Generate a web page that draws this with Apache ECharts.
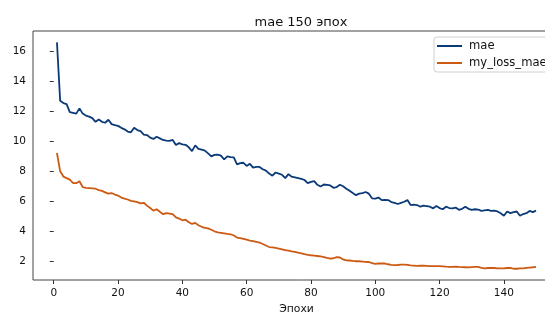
<!DOCTYPE html>
<html>
<head>
<meta charset="utf-8">
<script src="https://cdn.jsdelivr.net/npm/echarts@6/dist/echarts.min.js"></script>
<style>
html,body{margin:0;padding:0;background:#fff;overflow:hidden;width:545px;height:320px;}
#chart{width:570px;height:320px;}
</style>
</head>
<body>
<div id="chart"></div>
<script>
const titleText = "mae 150 эпох";
const xAxisName = "Эпохи";
const seriesNames = ["mae", "my_loss_mae"];
const xTicks = [0, 20, 40, 60, 80, 100, 120, 140];
const yTicks = [2, 4, 6, 8, 10, 12, 14, 16];

const maeValues = [
16.6,12.7,12.55,12.48,11.95,11.9,11.85,12.2,11.85,11.72,
11.65,11.55,11.3,11.46,11.3,11.24,11.44,11.15,11.08,11.03,
10.9,10.8,10.65,10.6,10.9,10.75,10.68,10.45,10.42,10.25,
10.16,10.31,10.2,10.09,10.05,10.03,10.09,9.75,9.88,9.8,
9.77,9.6,9.35,9.73,9.5,9.44,9.38,9.2,9.0,9.1,
9.11,9.05,8.79,9.0,8.95,8.93,8.46,8.55,8.57,8.36,
8.5,8.25,8.3,8.29,8.14,8.05,7.85,7.71,7.92,7.85,
7.77,7.55,7.81,7.64,7.6,7.55,7.5,7.42,7.21,7.3,
7.34,7.1,6.99,7.12,7.1,7.06,6.9,6.95,7.1,7.0,
6.84,6.7,6.55,6.41,6.51,6.55,6.62,6.51,6.2,6.18,
6.25,6.08,6.1,6.08,5.95,5.9,5.82,5.9,5.97,6.08,
5.75,5.78,5.75,5.64,5.71,5.68,5.64,5.53,5.69,5.55,
5.47,5.64,5.55,5.53,5.58,5.43,5.5,5.64,5.5,5.43,
5.47,5.45,5.36,5.4,5.43,5.36,5.38,5.32,5.2,5.04,
5.32,5.21,5.28,5.32,5.04,5.15,5.21,5.36,5.28,5.38
];

const myLossValues = [
9.22,8.0,7.65,7.55,7.45,7.22,7.21,7.34,6.95,6.9,
6.88,6.86,6.84,6.75,6.69,6.6,6.51,6.55,6.45,6.38,
6.25,6.18,6.12,6.03,6.0,5.95,5.86,5.9,5.71,5.55,
5.38,5.47,5.3,5.14,5.21,5.18,5.14,4.93,4.85,4.73,
4.77,4.6,4.49,4.56,4.4,4.3,4.23,4.19,4.1,4.0,
3.93,3.9,3.86,3.82,3.8,3.72,3.58,3.55,3.5,3.45,
3.38,3.35,3.3,3.25,3.15,3.05,2.95,2.92,2.89,2.85,
2.8,2.74,2.71,2.66,2.63,2.57,2.53,2.47,2.43,2.4,
2.38,2.35,2.32,2.28,2.22,2.18,2.2,2.27,2.25,2.12,
2.06,2.05,2.02,2.0,2.0,1.98,1.96,1.95,1.88,1.82,
1.85,1.85,1.85,1.8,1.76,1.74,1.75,1.77,1.78,1.76,
1.73,1.71,1.69,1.7,1.7,1.69,1.68,1.68,1.67,1.67,
1.66,1.64,1.63,1.63,1.64,1.62,1.61,1.6,1.59,1.61,
1.62,1.63,1.56,1.52,1.55,1.56,1.55,1.53,1.52,1.52,
1.55,1.56,1.5,1.5,1.52,1.53,1.56,1.58,1.6,1.63
];

const epochs = maeValues.map((_, i) => i + 1);
const maeData = epochs.map((e, i) => [e, maeValues[i]]);
const lossData = epochs.map((e, i) => [e, myLossValues[i]]);

const FONT = "DejaVu Sans";
const chart = echarts.init(document.getElementById('chart'), null, {renderer: 'canvas'});
chart.setOption({
  animation: false,
  backgroundColor: '#ffffff',
  textStyle: {fontFamily: FONT},
  title: {
    text: titleText,
    left: 296,
    textAlign: 'center',
    top: 11,
    textStyle: {fontFamily: FONT, fontSize: 13, fontWeight: 'normal', color: '#111'}
  },
  legend: {
    data: seriesNames,
    orient: 'vertical',
    left: 434,
    top: 37,
    padding: [3, 8, 3, 3],
    itemGap: 5,
    itemWidth: 25,
    itemHeight: 2,
    icon: 'rect',
    backgroundColor: '#ffffff',
    borderColor: '#d0d0d0',
    borderWidth: 1,
    borderRadius: 3,
    textStyle: {fontFamily: FONT, fontSize: 11.6, color: '#111', padding: [0, 0, 0, 2]}
  },
  grid: {
    left: 33,
    top: 31,
    width: 527,
    height: 254,
    show: true,
    borderColor: '#444',
    borderWidth: 1,
    containLabel: false
  },
  xAxis: {
    type: 'value',
    min: -6.45,
    max: 157.45,
    name: xAxisName,
    nameLocation: 'middle',
    nameGap: 24,
    nameTextStyle: {fontFamily: FONT, fontSize: 10.8, color: '#111'},
    axisLine: {show: false},
    splitLine: {show: false},
    axisTick: {show: true, length: 4, lineStyle: {color: '#333'}, customValues: xTicks},
    axisLabel: {fontFamily: FONT, fontSize: 10.5, color: '#111', margin: 8, customValues: xTicks}
  },
  yAxis: {
    type: 'value',
    min: 0.75,
    max: 17.36,
    axisLine: {show: false},
    splitLine: {show: false},
    axisTick: {show: true, length: 4, lineStyle: {color: '#333'}, customValues: yTicks},
    axisLabel: {fontFamily: FONT, fontSize: 10.5, color: '#111', margin: 7, customValues: yTicks}
  },
  series: [
    {
      name: seriesNames[0],
      type: 'line',
      data: maeData,
      showSymbol: false,
      symbol: 'none',
      lineStyle: {color: '#0b3a78', width: 1.8},
      itemStyle: {color: '#0b3a78'},
      z: 3
    },
    {
      name: seriesNames[1],
      type: 'line',
      data: lossData,
      showSymbol: false,
      symbol: 'none',
      lineStyle: {color: '#cc5a12', width: 1.8},
      itemStyle: {color: '#cc5a12'},
      z: 2
    }
  ]
});
</script>
</body>
</html>
